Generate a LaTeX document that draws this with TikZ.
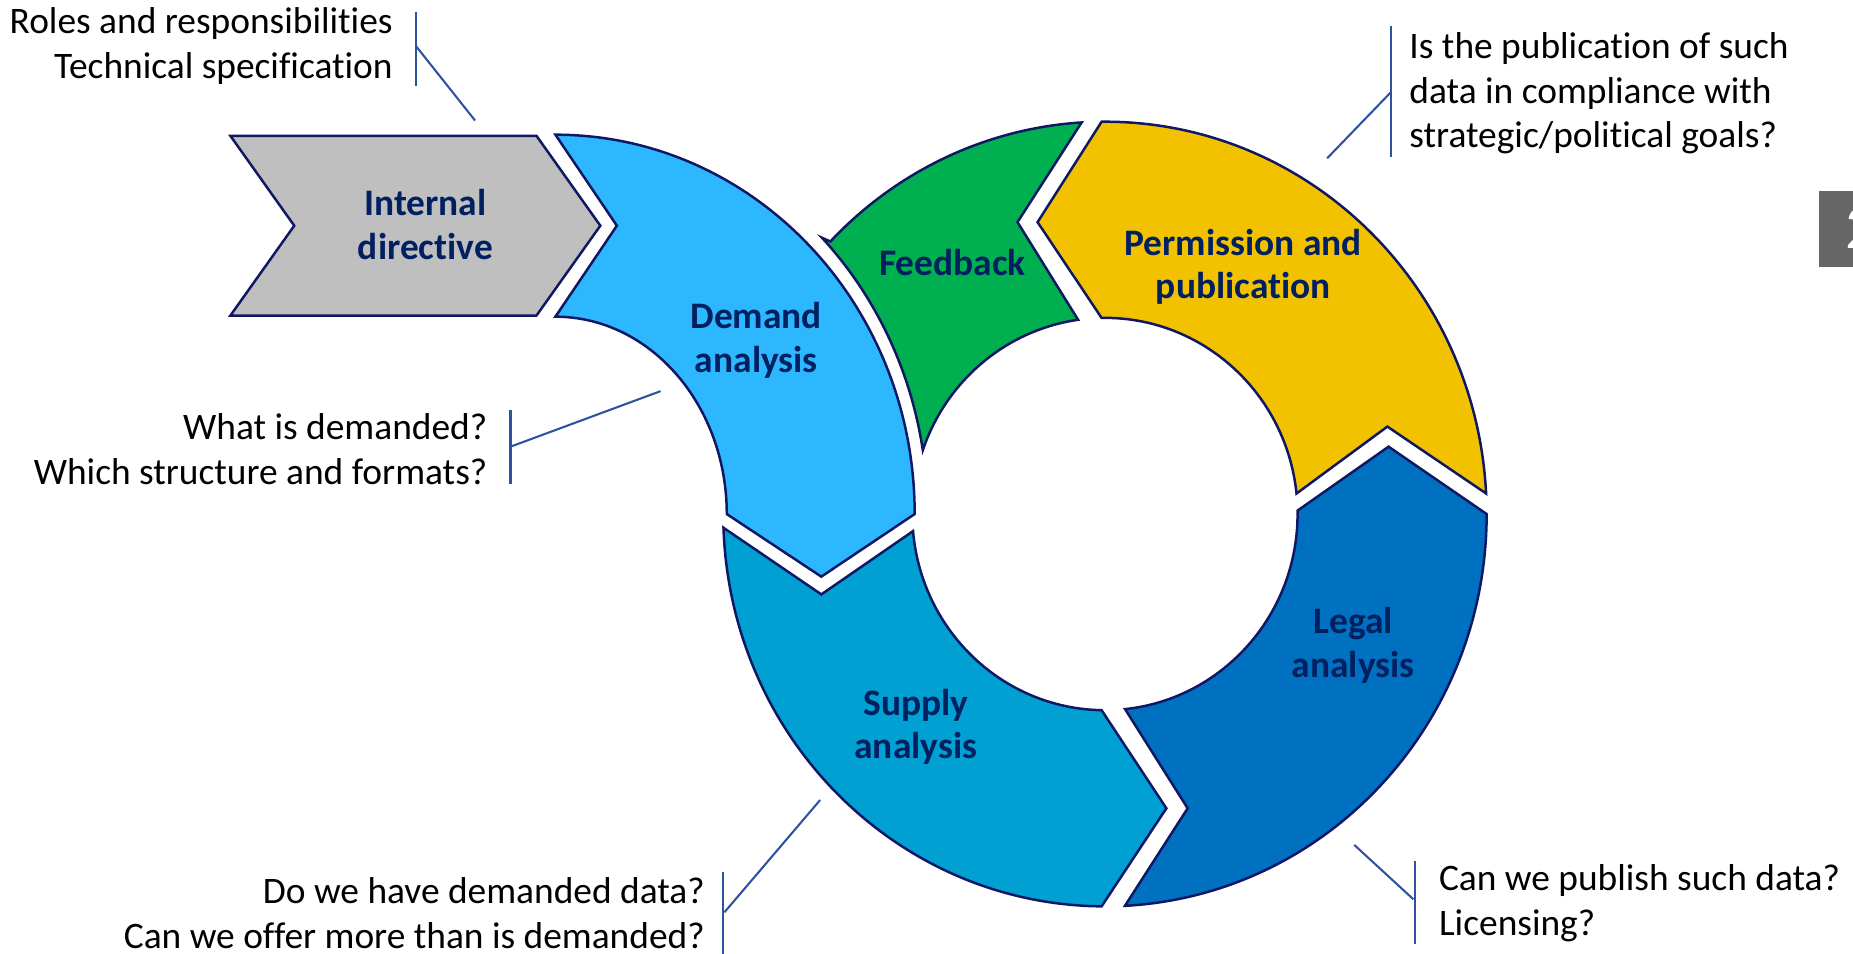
\documentclass[tikz,border=0pt]{standalone}
\usepackage{fontspec}
\setmainfont{Carlito}[Ligatures={NoCommon,NoContextual}]
\definecolor{dirgray}{RGB}{191,191,191}
\definecolor{demandblue}{RGB}{45,183,255}
\definecolor{supplyblue}{RGB}{0,160,210}
\definecolor{legalblue}{RGB}{0,112,192}
\definecolor{permgold}{RGB}{242,194,0}
\definecolor{feedgreen}{RGB}{0,176,80}
\definecolor{edgenavy}{RGB}{16,24,100}
\definecolor{labelnavy}{RGB}{0,32,96}
\definecolor{leaderblue}{RGB}{47,82,160}
\definecolor{pagegray}{RGB}{102,102,102}
\begin{document}
\begin{tikzpicture}[x=0.01cm, y=0.01cm,
  stage/.style={draw=edgenavy, line width=0.6pt},
  stagetext/.style={text=labelnavy, font=\fontsize{9}{10.4}\selectfont\bfseries, align=center},
  note/.style={inner sep=0pt, font=\fontsize{9}{10.8}\selectfont},
  leader/.style={draw=leaderblue, line width=0.5pt}]
\useasboundingbox (0,0) rectangle (1568,807);

\draw[stage, fill=dirgray] (195,692) -- (454,692) -- (508,616) -- (454,540) -- (195,540) -- (249,616) -- cycle;
\draw[stage, fill=demandblue] (470,693) -- (522,616) -- (470,539)
  arc[start angle=90, end angle=0, x radius=145, y radius=167] -- (695,319) -- (774,372)
  arc[start angle=0, end angle=90, x radius=304, y radius=321] -- cycle;

\begin{scope}[shift={(935,372)}]
\draw[stage, fill=feedgreen] (161:163 and 166)
  arc[start angle=9, end angle=44, x radius=318, y radius=334] -- (136:323 and 332)
  arc[start angle=136, end angle=93.5, x radius=323, y radius=332] -- (-74,247) -- (98:163 and 166)
  arc[start angle=98, end angle=161, x radius=163, y radius=166] -- cycle;
\draw[stage, fill=permgold] (90.5:323 and 332)
  arc[start angle=90.5, end angle=3, x radius=323, y radius=332] -- (239,74) -- (6:163 and 166)
  arc[start angle=6, end angle=91, x radius=163, y radius=166] -- (-57,247) -- cycle;
\draw[stage, fill=legalblue] (1:163 and 166) -- (240,57) -- (0:323 and 332)
  arc[start angle=0, end angle=-87, x radius=323, y radius=332] -- (70,-249) -- (-84:163 and 166)
  arc[start angle=-84, end angle=1, x radius=163, y radius=166] -- cycle;
\draw[stage, fill=supplyblue] (-90.5:323 and 332) -- (52,-249) -- (-91:163 and 166)
  arc[start angle=-91, end angle=-175, x radius=163, y radius=166] -- (-240,-68) -- (-178:323 and 332)
  arc[start angle=-178, end angle=-90.5, x radius=323, y radius=332] -- cycle;
\end{scope}

\node[stagetext] (directive) at (360,617) {Internal\\directive};
\node[stagetext] (demand) at (640,519) {Demand\\analysis};
\node[stagetext] (feedback) at (806,585) {Feedback};
\node[stagetext] (permission) at (1052,581) {Permission and\\publication};
\node[stagetext] (legal) at (1145,261) {Legal\\analysis};
\node[stagetext] (supply) at (775,192) {Supply\\analysis};

\node[note, anchor=east, align=right] (roles) at (333,768) {Roles and responsibilities\\Technical specification};
\coordinate (rolestop) at (352,797);
\coordinate (rolesbot) at (352,734);
\coordinate (rolesmid) at (352,768);
\coordinate (rolesend) at (402,705);
\draw[leader] (rolestop) -- (rolesbot);
\draw[leader] (rolesmid) -- (rolesend);

\node[note, anchor=west, align=left] (goals) at (1192,728) {Is the publication of such\\data in compliance with\\strategic/political goals?};
\coordinate (goalstop) at (1177,785);
\coordinate (goalsbot) at (1177,674);
\coordinate (goalsmid) at (1177,729);
\coordinate (goalsend) at (1123,673);
\draw[leader] (goalstop) -- (goalsbot);
\draw[leader] (goalsmid) -- (goalsend);

\node[note, anchor=east, align=right] (demanded) at (413,427) {What is demanded?\\Which structure and formats?};
\coordinate (demandedtop) at (432,460);
\coordinate (demandedbot) at (432,397);
\coordinate (demandedmid) at (432,429);
\coordinate (demandedend) at (559,476);
\draw[leader] (demandedtop) -- (demandedbot);
\draw[leader] (demandedmid) -- (demandedend);

\node[note, anchor=east, align=right] (offer) at (597,34) {Do we have demanded data?\\Can we offer more than is demanded?};
\coordinate (offertop) at (612,69);
\coordinate (offerbot) at (612,0);
\coordinate (offermid) at (613,35);
\coordinate (offerend) at (694,130);
\draw[leader] (offertop) -- (offerbot);
\draw[leader] (offermid) -- (offerend);

\node[note, anchor=west, align=left] (licence) at (1217,43) {Can we publish such data?\\Licensing?};
\coordinate (licencetop) at (1197,78);
\coordinate (licencebot) at (1197,8);
\coordinate (licencemid) at (1196,46);
\coordinate (licenceend) at (1146,92);
\draw[leader] (licencetop) -- (licencebot);
\draw[leader] (licencemid) -- (licenceend);

\fill[pagegray] (1539,581) rectangle (1580,645);
\node[inner sep=0pt, anchor=west, text=white, font=\fontsize{15}{15}\selectfont] (page) at (1561,614) {2};
\end{tikzpicture}
\end{document}
